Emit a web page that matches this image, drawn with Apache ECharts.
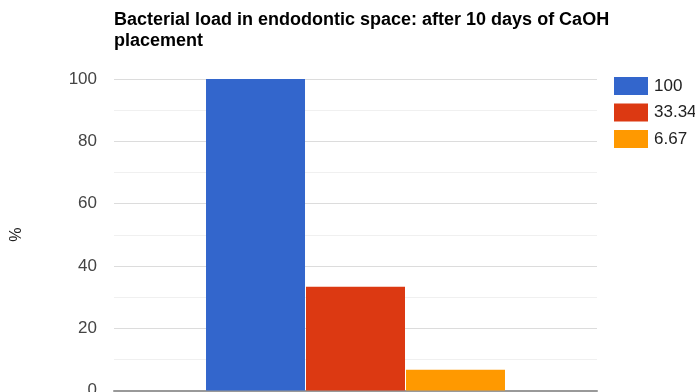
<!DOCTYPE html>
<html>
<head>
<meta charset="utf-8">
<script src="https://cdn.jsdelivr.net/npm/echarts@6/dist/echarts.min.js"></script>
<style>
  html, body { margin: 0; padding: 0; background: #fff; }
  #chart { width: 695px; height: 392px; }
</style>
</head>
<body>
<div id="chart"></div>
<script>
// Bacterial load data (percent of initial)
const categories = [''];
const seriesNames = ['100', '33.34', '6.67'];
const seriesValues = [[100], [33.34], [6.67]];
const seriesColors = ['#3366cc', '#dc3912', '#ff9900'];
const yTicks = [0, 20, 40, 60, 80, 100];

const chart = echarts.init(document.getElementById('chart'), null, { renderer: 'canvas' });

const font = '"Liberation Sans", Arial, sans-serif';

chart.setOption({
  animation: false,
  textStyle: { fontFamily: font },
  title: {
    text: 'Bacterial load in endodontic space: after 10 days of CaOH\nplacement',
    left: 114,
    top: 10,
    padding: 0,
    textStyle: {
      fontFamily: font,
      fontSize: 18,
      fontWeight: 'bold',
      color: '#000',
      lineHeight: 21
    }
  },
  legend: {
    orient: 'vertical',
    left: 614,
    top: 77,
    padding: 0,
    itemWidth: 34,
    itemHeight: 18,
    itemGap: 8.5,
    icon: 'rect',
    textStyle: { fontFamily: font, fontSize: 17, lineHeight: 18, color: '#222', padding: [0, 0, 0, 1] },
    data: seriesNames
  },
  grid: {
    left: 114, right: 98, top: 79, bottom: 1.5,
    containLabel: false,
    outerBoundsMode: 'none'
  },
  xAxis: {
    type: 'category',
    data: categories,
    axisLine: { show: true, lineStyle: { color: '#999', width: 2 } },
    axisTick: { show: false },
    axisLabel: { show: false }
  },
  yAxis: {
    type: 'value',
    min: yTicks[0],
    max: yTicks[yTicks.length - 1],
    interval: 20,
    name: '%',
    nameLocation: 'middle',
    nameRotate: 90,
    nameGap: 89,
    nameTextStyle: { fontFamily: font, fontSize: 16, color: '#222' },
    axisLine: { show: false },
    axisTick: { show: false },
    axisLabel: { fontFamily: font, fontSize: 17, color: '#444', margin: 17 },
    splitLine: { lineStyle: { color: '#dcdcdc', width: 1 } },
    minorTick: { show: false, splitNumber: 2 },
    minorSplitLine: { show: true, lineStyle: { color: '#f0f0f0', width: 1 } }
  },
  series: seriesNames.map((name, i) => ({
    name: name,
    type: 'bar',
    data: seriesValues[i],
    barWidth: 99,
    barGap: '1%',
    itemStyle: { color: seriesColors[i] }
  }))
});
</script>
</body>
</html>
